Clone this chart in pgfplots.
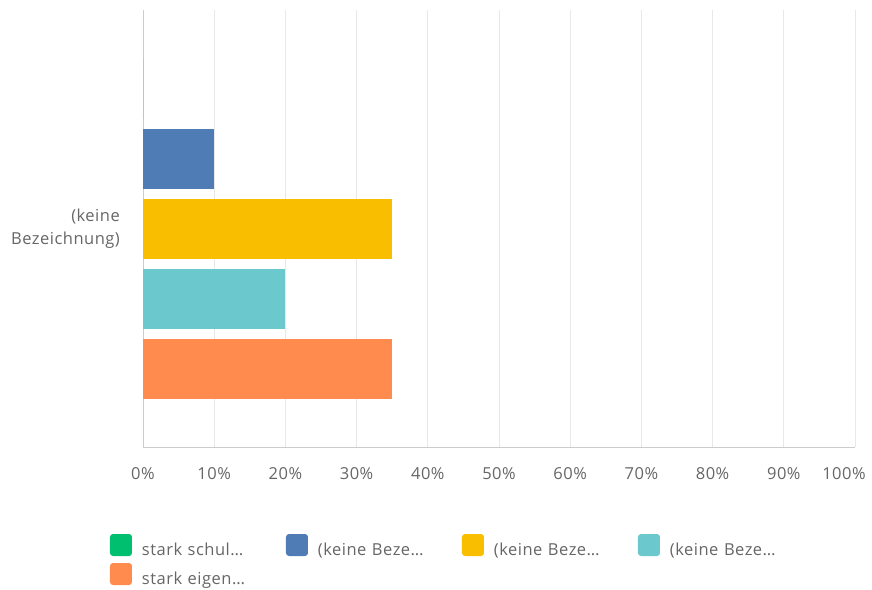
\documentclass[border=0pt]{standalone}
\usepackage{pgfplots}
\pgfplotsset{compat=1.18}
\usepackage{fontspec}
\setmainfont[LetterSpace=3]{Open Sans}
\definecolor{cgreen}{HTML}{00BF6F}
\definecolor{cblue}{HTML}{507CB6}
\definecolor{cyellow}{HTML}{F9BE00}
\definecolor{cteal}{HTML}{6BC8CD}
\definecolor{corange}{HTML}{FF8B4F}
\definecolor{txt}{HTML}{666666}
\definecolor{axl}{HTML}{CCCCCC}
\definecolor{grd}{HTML}{E8E8E8}
\begin{document}
\begin{tikzpicture}
\begin{axis}[
  at={(143pt,142pt)}, anchor=south west,
  scale only axis, width=712pt, height=437pt,
  xmin=0, xmax=100, ymin=-218, ymax=219,
  xbar, bar width=60,
  axis x line=bottom, axis y line=left,
  axis line style={draw=axl, line width=1pt, -},
  xmajorgrids, grid style={draw=grd, line width=0.8pt},
  xtick={0,10,...,90},
  extra x ticks={100},
  extra x tick style={grid=major, xticklabel style={xshift=-11pt}},
  xticklabel={\pgfmathprintnumber{\tick}\%},
  /pgf/number format/assume math mode=true,
  major tick length=0pt, tick style={draw=none},
  ytick={0}, yticklabels={{(keine\\Bezeichnung)}},
  xticklabel style={font=\fontsize{16.5}{19}\selectfont, text=txt, inner sep=0pt, yshift=-20pt},
  yticklabel style={font=\fontsize{16.5}{23}\selectfont, text=txt, align=right, inner sep=0pt, xshift=-23pt},
  legend columns=4,
  legend cell align=left,
  legend style={at={(-0.04635,-0.1991)}, anchor=north west, draw=none, fill=none,
    inner sep=0pt, outer sep=0pt, row sep=6pt, column sep=0pt,
    font=\fontsize{16.5}{19}\selectfont, text=txt,
    nodes={inner sep=0pt, text width=144pt, align=left}},
  legend image code/.code={\fill[#1, rounded corners=3pt] (0pt,-6pt) rectangle (22pt,16pt); \path (32pt,0pt);},
]
\addplot[fill=cgreen, draw=none, bar shift=140] coordinates {(0,0)};
\addlegendentry{{stark schul\ldots}}
\addplot[fill=cblue, draw=none, bar shift=70] coordinates {(10,0)};
\addlegendentry{{(keine Beze\ldots}}
\addplot[fill=cyellow, draw=none, bar shift=0] coordinates {(35,0)};
\addlegendentry{{(keine Beze\ldots}}
\addplot[fill=cteal, draw=none, bar shift=-70] coordinates {(20,0)};
\addlegendentry{{(keine Beze\ldots}}
\addplot[fill=corange, draw=none, bar shift=-140] coordinates {(35,0)};
\addlegendentry{{stark eigen\ldots}}
\end{axis}
\pgfresetboundingbox
\path[use as bounding box] (0pt,0pt) rectangle (872pt,589pt);
\end{tikzpicture}
\end{document}
